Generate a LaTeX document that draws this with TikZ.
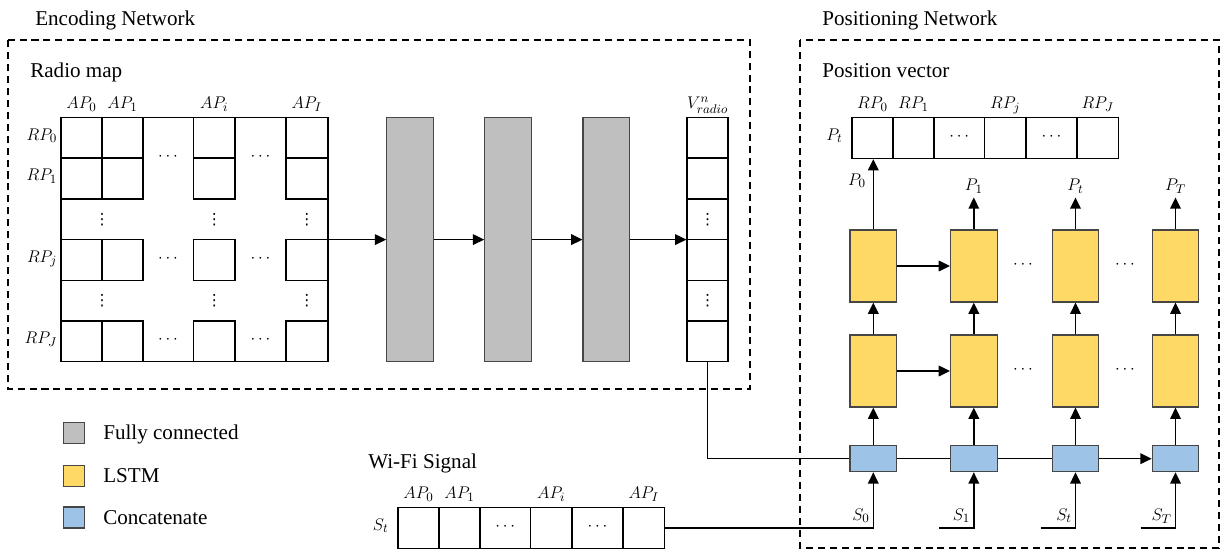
\documentclass[tikz,border=0pt]{standalone}
\usepackage{fontspec}
\setmainfont{Liberation Serif}
\newfontfamily\dotsfont{DejaVu Sans}
\usepackage{tikz}
\usetikzlibrary{positioning,calc,arrows.meta}
\usepackage{xcolor}
\definecolor{fcgray}{RGB}{191,191,191}
\definecolor{lstmyellow}{RGB}{255,217,102}
\definecolor{catblue}{RGB}{157,195,230}
\definecolor{boxedge}{RGB}{70,70,70}
\newlength\pxl
\setlength\pxl{0.025cm}
\newcommand{\vdt}{{\dotsfont\fontsize{11}{13}\selectfont ⋮}}

\begin{document}
\begin{tikzpicture}[x=\pxl, y=-\pxl]
\tikzstyle{cell} = [draw, line width=1.1pt, inner sep=0pt,
            minimum width=41\pxl, minimum height=40.7\pxl];
\tikzstyle{fc} = [draw=boxedge, fill=fcgray, line width=0.8pt,
            minimum width=46.5\pxl, minimum height=243.5\pxl];
\tikzstyle{lstm} = [draw=boxedge, fill=lstmyellow, line width=0.8pt,
            minimum width=46.5\pxl, minimum height=72\pxl];
\tikzstyle{cat} = [draw=boxedge, fill=catblue, line width=0.8pt,
            minimum width=46.5\pxl, minimum height=26\pxl];
\tikzstyle{legendbox} = [draw=boxedge, line width=0.8pt, minimum size=21\pxl];
\tikzstyle{lbl} = [font=\fontsize{15}{18}\selectfont, inner sep=0pt, anchor=base west];
\tikzstyle{sym} = [font=\fontsize{13}{15}\selectfont, inner sep=1pt,
            text height=1.5ex, text depth=0.35em];
\tikzstyle{arr} = [line width=1.1pt, -{Triangle[length=8pt,width=7.5pt]}];
\tikzstyle{wire} = [line width=1.1pt];
\tikzstyle{net} = [line width=1.1pt, dash pattern=on 5pt off 3.5pt];

    \useasboundingbox (0,0) rectangle (1223,552);

    \draw[net] (8,40) rectangle (750,389);
    \draw[net] (800,40) rectangle (1219,548);
    \node (enc) [lbl] at (35,25) {Encoding Network};
    \node (pos) [lbl] at (822,25) {Positioning Network};
    \node (rmt) [lbl] at (30,77) {Radio map};
    \node (pvt) [lbl] at (822,77) {Position vector};
    \node (wft) [lbl] at (368,468) {Wi-Fi Signal};

    \node (rmap) [cell, minimum width=267\pxl, minimum height=244.2\pxl] at (194.5,239.6) {};
    \foreach \r/\rl in {0/0, 1/1, 3/j, 5/J} {
        \foreach \c/\dx/\w in {0/0/41, 1/41/41, 3/132.5/41.5, 5/225/41.5}
            \node (rm\r\c) [cell, minimum width=\w\pxl] at ({61+\dx+\w/2},{117.5+40.7*\r+20.35}) {};
        \node (rp\r) [sym, left=1pt of rm\r0] {$RP_{\rl}$};
    }
    \foreach \c/\cl in {0/0, 1/1, 3/i, 5/I}
        \node (ap\c) [sym, above=1pt of rm0\c] {$AP_{\cl}$};
    \foreach \y [count=\k] in {158.2, 259.95, 341.35} {
        \node (hda\k) [sym] at (168,\y) {$\cdots$};
        \node (hdb\k) [sym] at (260.5,\y) {$\cdots$};
    }
    \foreach \y [count=\k] in {219.25, 300.65}
        \foreach \x [count=\m] in {102, 214.25, 306.75}
            \node (vd\k\m) [inner sep=0pt] at (\x,\y) {\vdt};

    \foreach \i/\x in {1/410, 2/508, 3/606.3}
        \node (fc\i) [fc] at (\x,239.6) {};

    \node (vrad) [cell, minimum height=244.2\pxl] at (707.7,239.6) {};
    \foreach \k in {0,...,5}
        \node (v\k) [cell] at (707.7,{117.5+40.7*\k+20.35}) {};
    \node (vv2) [inner sep=0pt] at (v2) {\vdt};
    \node (vv4) [inner sep=0pt] at (v4) {\vdt};
    \node (vlab) [sym, above=1pt of v0] {$V^{n}_{radio}$};

    \draw[arr] (rmap) -- (fc1);
    \draw[arr] (fc1) -- (fc2);
    \draw[arr] (fc2) -- (fc3);
    \draw[arr] (fc3) -- (vrad);

    \foreach \c/\dx/\w in {0/0/41, 1/41/41, 2/82/50.5, 3/132.5/41.5, 4/174/51, 5/225/41.5} {
        \node (pt\c) [cell, minimum width=\w\pxl, minimum height=41\pxl] at ({852+\dx+\w/2},137.8) {};
        \node (ws\c) [cell, minimum width=\w\pxl, minimum height=40.6\pxl] at ({398+\dx+\w/2},528) {};
    }
    \foreach \c/\cl in {0/0, 1/1, 3/j, 5/J}
        \node (prp\c) [sym, above=1pt of pt\c] {$RP_{\cl}$};
    \foreach \c/\cl in {0/0, 1/1, 3/i, 5/I}
        \node (wap\c) [sym, above=1pt of ws\c] {$AP_{\cl}$};
    \foreach \c in {2, 4} {
        \node (ptd\c) [sym] at (pt\c) {$\cdots$};
        \node (wsd\c) [sym] at (ws\c) {$\cdots$};
    }
    \node (ptl) [sym, left=5pt of pt0] {$P_t$};
    \node (stl) [sym, left=5pt of ws0] {$S_t$};

    \foreach \t/\x in {0/873.3, 1/973.8, 2/1075.5, 3/1175.5} {
        \node (c\t) [cat] at (\x,458.7) {};
        \node (la\t) [lstm] at (\x,371) {};
        \node (lb\t) [lstm] at (\x,266) {};
        \draw[arr] (c\t) -- (la\t);
        \draw[arr] (la\t) -- (lb\t);
    }
    \draw[arr] (la0) -- (la1);
    \draw[arr] (lb0) -- (lb1);
    \foreach \x [count=\k] in {1023, 1125} {
        \node (lad\k) [sym] at (\x,371) {$\cdots$};
        \node (lbd\k) [sym] at (\x,266) {$\cdots$};
    }

    \draw[arr] (lb0.north) -- (lb0.north |- pt0.south);
    \node (po0) [sym] at (857,183) {$P_0$};
    \foreach \t/\tl in {1/1, 2/t, 3/T} {
        \coordinate (o\t) at ($(lb\t.north)+(0,-32)$);
        \draw[arr] (lb\t) -- (o\t);
        \node (po\t) [sym, above=0pt of o\t] {$P_{\tl}$};
    }

    \draw[wire] (vrad.south) |- (c0.west);
    \draw[wire] (c0) -- (c1);
    \draw[wire] (c1) -- (c2);
    \draw[arr] (c2) -- (c3);

    \draw[arr] (ws5.east) -| (c0.south);
    \foreach \t/\tl in {0/0, 1/1, 2/t, 3/T} {
        \coordinate (s\t) at ($(c\t.south |- ws5.east)+(-35,0)$);
        \node (si\t) [sym, anchor=south east] at ($(c\t.south |- ws5.east)+(-2,-1)$) {$S_{\tl}$};
    }
    \foreach \t in {1, 2, 3}
        \draw[arr] (s\t) -| (c\t.south);

    \foreach \n/\col/\txt/\y in {fck/fcgray/Fully connected/433, lsk/lstmyellow/LSTM/476.2, cak/catblue/Concatenate/517.5} {
        \node (\n) [legendbox, fill=\col] at (73.7,\y) {};
        \node (\n-t) [lbl] at (103,{\y+6.5}) {\txt};
    }

\end{tikzpicture}
\end{document}
